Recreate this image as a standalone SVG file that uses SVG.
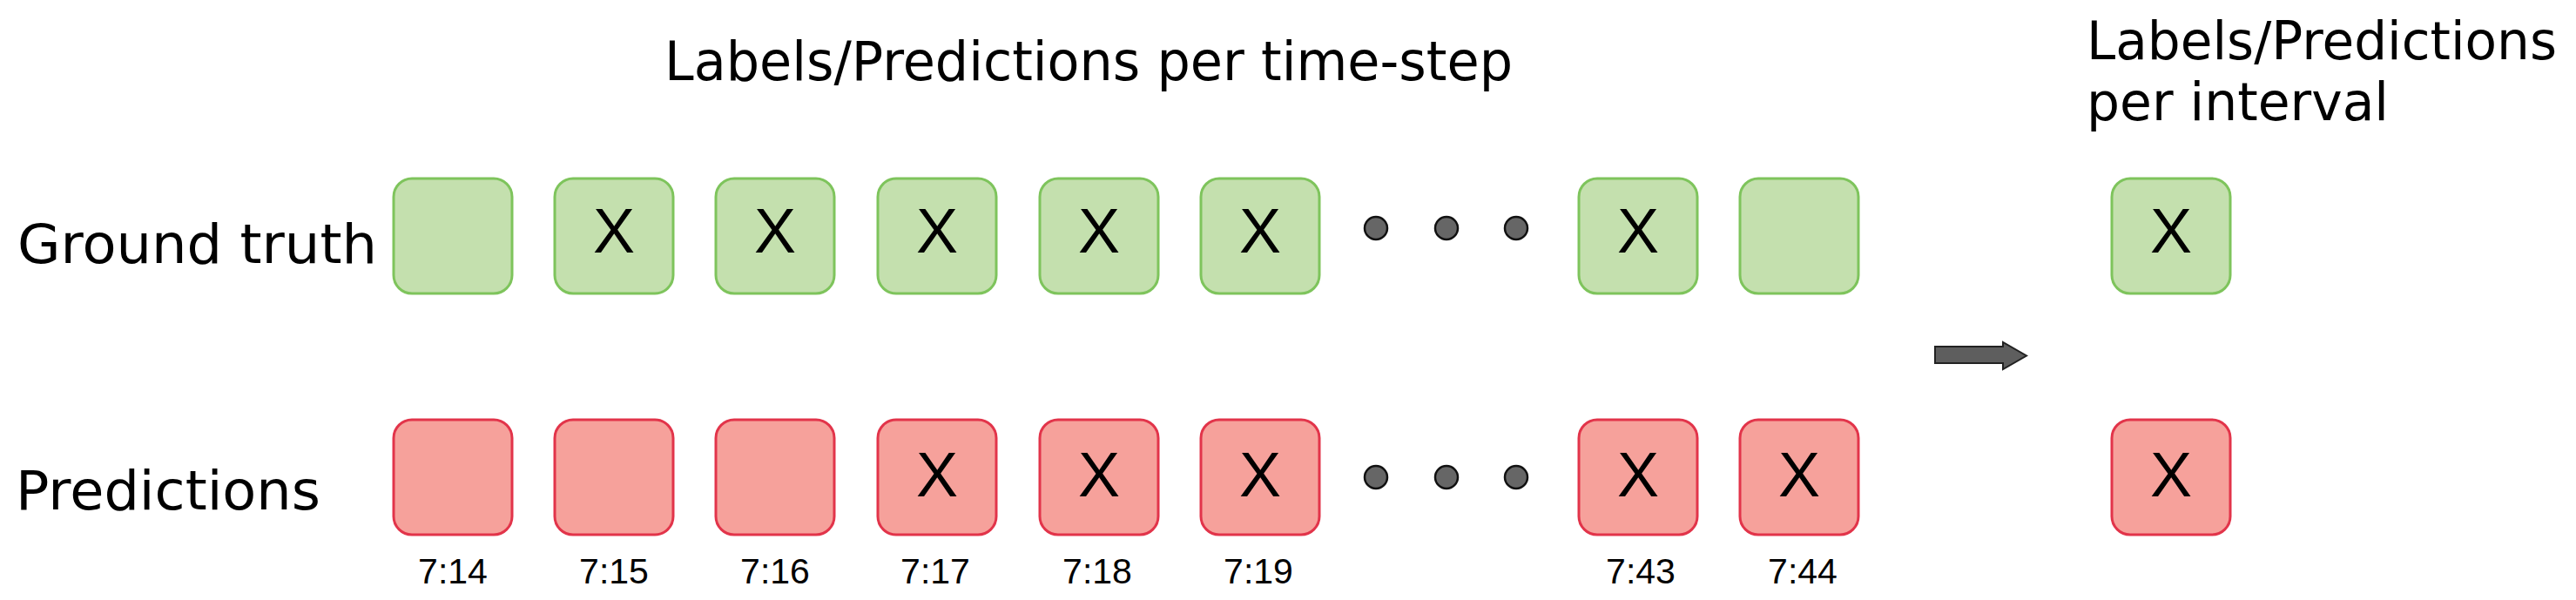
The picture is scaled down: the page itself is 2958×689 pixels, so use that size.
<svg xmlns="http://www.w3.org/2000/svg" width="2958" height="689" viewBox="0 0 2958 689">
<style>
.g{fill:#c4e0ae;stroke:#7ec45c;stroke-width:3}
.r{fill:#f6a19b;stroke:#e2344a;stroke-width:3}
.x{font-family:"Liberation Sans",Arial,sans-serif;font-size:72px;fill:#000;text-anchor:middle}
.t{font-family:"Liberation Sans",Arial,sans-serif;font-size:41px;fill:#000;text-anchor:middle}
.lbl{font-family:"DejaVu Sans",sans-serif;font-size:63px;fill:#000}
.lbl2{font-family:"DejaVu Sans",sans-serif;font-size:61px;fill:#000}
.dot{fill:#666;stroke:#111;stroke-width:2.5}
</style>
<defs>
<rect id="bx" width="136" height="132" rx="21" ry="21"/>
</defs>
<rect width="2958" height="689" fill="#fff"/>
<g id="titles">
<text class="lbl" x="763" y="92" textLength="974" lengthAdjust="spacingAndGlyphs">Labels/Predictions per time-step</text>
<text class="lbl2" x="2396" y="68" textLength="540" lengthAdjust="spacingAndGlyphs">Labels/Predictions</text>
<text class="lbl2" x="2396" y="138" textLength="347" lengthAdjust="spacingAndGlyphs">per interval</text>
</g>
<g id="row-labels">
<text class="lbl" x="20" y="302" textLength="413" lengthAdjust="spacingAndGlyphs">Ground truth</text>
<text class="lbl" x="18" y="585" textLength="350" lengthAdjust="spacingAndGlyphs">Predictions</text>
</g>
<g id="gt-1"><use href="#bx" class="g" x="452" y="205"/></g>
<g id="gt-2"><use href="#bx" class="g" x="637" y="205"/><text class="x" x="705" y="290">X</text></g>
<g id="gt-3"><use href="#bx" class="g" x="822" y="205"/><text class="x" x="890" y="290">X</text></g>
<g id="gt-4"><use href="#bx" class="g" x="1008" y="205"/><text class="x" x="1076" y="290">X</text></g>
<g id="gt-5"><use href="#bx" class="g" x="1194" y="205"/><text class="x" x="1262" y="290">X</text></g>
<g id="gt-6"><use href="#bx" class="g" x="1379" y="205"/><text class="x" x="1447" y="290">X</text></g>
<g id="gt-7"><use href="#bx" class="g" x="1813" y="205"/><text class="x" x="1881" y="290">X</text></g>
<g id="gt-8"><use href="#bx" class="g" x="1998" y="205"/></g>
<g id="gt-interval"><use href="#bx" class="g" x="2425" y="205"/><text class="x" x="2493" y="290">X</text></g>
<g id="pr-1"><use href="#bx" class="r" x="452" y="482"/><text class="t" x="520" y="670">7:14</text></g>
<g id="pr-2"><use href="#bx" class="r" x="637" y="482"/><text class="t" x="705" y="670">7:15</text></g>
<g id="pr-3"><use href="#bx" class="r" x="822" y="482"/><text class="t" x="890" y="670">7:16</text></g>
<g id="pr-4"><use href="#bx" class="r" x="1008" y="482"/><text class="x" x="1076" y="570">X</text><text class="t" x="1074" y="670">7:17</text></g>
<g id="pr-5"><use href="#bx" class="r" x="1194" y="482"/><text class="x" x="1262" y="570">X</text><text class="t" x="1260" y="670">7:18</text></g>
<g id="pr-6"><use href="#bx" class="r" x="1379" y="482"/><text class="x" x="1447" y="570">X</text><text class="t" x="1445" y="670">7:19</text></g>
<g id="pr-7"><use href="#bx" class="r" x="1813" y="482"/><text class="x" x="1881" y="570">X</text><text class="t" x="1884" y="670">7:43</text></g>
<g id="pr-8"><use href="#bx" class="r" x="1998" y="482"/><text class="x" x="2066" y="570">X</text><text class="t" x="2070" y="670">7:44</text></g>
<g id="pr-interval"><use href="#bx" class="r" x="2425" y="482"/><text class="x" x="2493" y="570">X</text></g>
<g id="ellipsis">
<circle class="dot" cx="1580" cy="262" r="13"/>
<circle class="dot" cx="1661" cy="262" r="13"/>
<circle class="dot" cx="1741" cy="262" r="13"/>
<circle class="dot" cx="1580" cy="548" r="13"/>
<circle class="dot" cx="1661" cy="548" r="13"/>
<circle class="dot" cx="1741" cy="548" r="13"/>
</g>
<g id="connectors">
<polygon points="2222,398 2300,398 2300,393 2327,408.5 2300,424 2300,417 2222,417" fill="#5e5e5e" stroke="#222" stroke-width="2" stroke-linejoin="miter"/>
</g>
</svg>
